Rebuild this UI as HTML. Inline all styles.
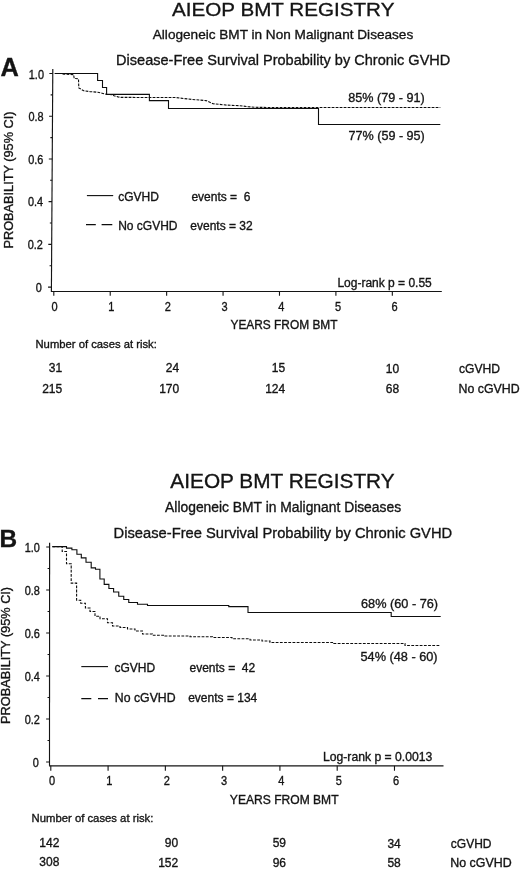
<!DOCTYPE html>
<html lang="en">
<head>
<meta charset="utf-8">
<title>AIEOP BMT Registry - Disease-Free Survival Probability by Chronic GVHD</title>
<style>
html,body{margin:0;padding:0;background:#fff;}
body{width:520px;height:869px;overflow:hidden;}
svg{display:block;font-family:"Liberation Sans",Arial,Helvetica,sans-serif;fill:#141414;filter:grayscale(1);}
text{stroke:#141414;stroke-width:0.34px;}
.ax{stroke:#141414;stroke-width:1.15;fill:none;}
.tk{stroke:#141414;stroke-width:1.1;fill:none;}
.cv{stroke:#0d0d0d;stroke-width:1.1;fill:none;stroke-linejoin:miter;}
.ds{stroke-dasharray:2.3 1.3;}
</style>
</head>
<body>
<svg width="520" height="869" viewBox="0 0 520 869">
<rect width="520" height="869" fill="#fff"/>
<text transform="translate(283.20 15.90) scale(1.0810 1)" font-size="19.10" text-anchor="middle">AIEOP BMT REGISTRY</text>
<text x="283.00" y="38.70" font-size="13.60" text-anchor="middle">Allogeneic BMT in Non Malignant Diseases</text>
<text transform="translate(283.20 64.80) scale(0.9510 1)" font-size="15.30" text-anchor="middle">Disease-Free Survival Probability by Chronic GVHD</text>
<text x="0.50" y="75.80" font-size="25.40" text-anchor="start" font-weight="bold" stroke-width="0.5">A</text>
<path d="M52.80 69.00 L51.40 291.50" class="ax"/>
<path d="M50.90 291.50 H441.80" class="ax"/>
<path d="M49.37 73.50H52.77M50.64 94.86H52.64M49.10 116.22H52.50M50.37 137.58H52.37M48.83 158.94H52.23M50.10 180.30H52.10M48.57 201.66H51.97M49.83 223.02H51.83M48.30 244.38H51.70M49.56 265.74H51.56M48.03 287.10H51.43M53.80 291.50V295.70M110.22 291.50V295.70M166.64 291.50V295.70M223.06 291.50V295.70M279.48 291.50V295.70M335.90 291.50V295.70M392.32 291.50V295.70" class="tk"/>
<text transform="translate(43.97 78.70) scale(0.9100 1)" font-size="12.00" text-anchor="end">1.0</text>
<text transform="translate(43.70 121.28) scale(0.9100 1)" font-size="12.00" text-anchor="end">0.8</text>
<text transform="translate(43.43 163.86) scale(0.9100 1)" font-size="12.00" text-anchor="end">0.6</text>
<text transform="translate(43.17 206.44) scale(0.9100 1)" font-size="12.00" text-anchor="end">0.4</text>
<text transform="translate(42.90 249.02) scale(0.9100 1)" font-size="12.00" text-anchor="end">0.2</text>
<text transform="translate(41.73 291.60) scale(0.9100 1)" font-size="12.00" text-anchor="end">0</text>
<text transform="translate(54.60 311.20) scale(0.9200 1)" font-size="12.00" text-anchor="middle">0</text>
<text transform="translate(111.27 311.20) scale(0.9200 1)" font-size="12.00" text-anchor="middle">1</text>
<text transform="translate(167.94 311.20) scale(0.9200 1)" font-size="12.00" text-anchor="middle">2</text>
<text transform="translate(224.61 311.20) scale(0.9200 1)" font-size="12.00" text-anchor="middle">3</text>
<text transform="translate(281.28 311.20) scale(0.9200 1)" font-size="12.00" text-anchor="middle">4</text>
<text transform="translate(337.95 311.20) scale(0.9200 1)" font-size="12.00" text-anchor="middle">5</text>
<text transform="translate(394.62 311.20) scale(0.9200 1)" font-size="12.00" text-anchor="middle">6</text>
<path d="M54.60 73.50 H97.60 V80.50 H102.50 V87.50 H106.60 V94.40 H149.40 V100.60 H168.50 V108.50 H318.50 V124.50 H440.30" class="cv"/>
<path d="M62.50 74.00 L64.00 74.10 L73.60 74.60 L74.20 78.50 L78.50 78.80 L78.80 87.90 L83.70 90.80 L90.00 91.60 L97.80 92.20 L102.00 93.20 L106.60 94.40 L112.50 94.70 L114.00 95.80 L118.00 96.90 L121.00 97.40 L175.40 97.50 L191.50 99.40 L206.00 100.60 L213.00 103.70 L226.50 105.10 L240.00 105.70 L248.00 106.70 L255.00 107.30 L270.00 107.50 L440.30 107.50" class="cv" stroke-width="1.2" stroke-dasharray="2.8 1.2"/>
<text transform="translate(12.9 180.0) rotate(-90) scale(1.012 1)" font-size="12.6" text-anchor="middle">PROBABILITY (95% CI)</text>
<text x="348.30" y="102.00" font-size="12.60" text-anchor="start">85% (79 - 91)</text>
<text x="348.50" y="140.00" font-size="12.60" text-anchor="start">77% (59 - 95)</text>
<path d="M86.9 195.6H113.2" class="cv"/>
<path d="M86 224.6H95.8M101.6 224.6H112.3" class="cv"/>
<text x="118.20" y="201.00" font-size="12.00" text-anchor="start">cGVHD</text>
<text x="191.40" y="201.00" font-size="12.00" text-anchor="start" style="white-space:pre">events =  6</text>
<text x="118.20" y="230.00" font-size="12.00" text-anchor="start">No cGVHD</text>
<text x="190.30" y="230.00" font-size="12.00" text-anchor="start">events = 32</text>
<text x="337.40" y="286.80" font-size="12.00" text-anchor="start">Log-rank p = 0.55</text>
<text x="284.00" y="328.80" font-size="11.90" text-anchor="middle">YEARS FROM BMT</text>
<text x="35.50" y="347.70" font-size="11.25" text-anchor="start">Number of cases at risk:</text>
<text x="62.20" y="372.00" font-size="12.00" text-anchor="end">31</text>
<text x="62.20" y="392.50" font-size="12.00" text-anchor="end">215</text>
<text x="179.20" y="372.20" font-size="12.00" text-anchor="end">24</text>
<text x="179.20" y="392.70" font-size="12.00" text-anchor="end">170</text>
<text x="285.20" y="372.40" font-size="12.00" text-anchor="end">15</text>
<text x="285.20" y="392.90" font-size="12.00" text-anchor="end">124</text>
<text x="399.20" y="372.60" font-size="12.00" text-anchor="end">10</text>
<text x="399.20" y="393.10" font-size="12.00" text-anchor="end">68</text>
<text transform="translate(459.00 372.70) scale(1.0100 1)" font-size="12.00" text-anchor="start">cGVHD</text>
<text transform="translate(458.60 393.20) scale(1.0300 1)" font-size="12.00" text-anchor="start">No cGVHD</text>
<text transform="translate(282.50 488.40) scale(1.0570 1)" font-size="19.70" text-anchor="middle">AIEOP BMT REGISTRY</text>
<text x="283.10" y="511.60" font-size="13.85" text-anchor="middle">Allogeneic BMT in Malignant Diseases</text>
<text transform="translate(282.90 538.00) scale(0.9750 1)" font-size="15.10" text-anchor="middle">Disease-Free Survival Probability by Chronic GVHD</text>
<text x="-0.50" y="547.40" font-size="24.40" text-anchor="start" font-weight="bold" stroke-width="0.5">B</text>
<path d="M49.60 542.70 L49.50 765.80" class="ax"/>
<path d="M49.00 765.80 H443.50" class="ax"/>
<path d="M46.20 547.00H49.60M47.59 568.50H49.59M46.18 590.00H49.58M47.57 611.50H49.57M46.16 633.00H49.56M47.55 654.50H49.55M46.14 676.00H49.54M47.53 697.50H49.53M46.12 719.00H49.52M47.51 740.50H49.51M46.10 762.00H49.50M50.80 765.80V770.80M108.08 765.80V770.80M165.36 765.80V770.80M222.64 765.80V770.80M279.92 765.80V770.80M337.20 765.80V770.80M394.48 765.80V770.80" class="tk"/>
<text transform="translate(39.90 552.20) scale(0.9100 1)" font-size="12.00" text-anchor="end">1.0</text>
<text transform="translate(39.88 595.20) scale(0.9100 1)" font-size="12.00" text-anchor="end">0.8</text>
<text transform="translate(39.86 638.20) scale(0.9100 1)" font-size="12.00" text-anchor="end">0.6</text>
<text transform="translate(39.84 681.20) scale(0.9100 1)" font-size="12.00" text-anchor="end">0.4</text>
<text transform="translate(39.82 724.20) scale(0.9100 1)" font-size="12.00" text-anchor="end">0.2</text>
<text transform="translate(38.90 767.20) scale(0.9100 1)" font-size="12.00" text-anchor="end">0</text>
<text transform="translate(52.00 785.00) scale(0.9200 1)" font-size="12.00" text-anchor="middle">0</text>
<text transform="translate(109.36 785.00) scale(0.9200 1)" font-size="12.00" text-anchor="middle">1</text>
<text transform="translate(166.72 785.00) scale(0.9200 1)" font-size="12.00" text-anchor="middle">2</text>
<text transform="translate(224.08 785.00) scale(0.9200 1)" font-size="12.00" text-anchor="middle">3</text>
<text transform="translate(281.44 785.00) scale(0.9200 1)" font-size="12.00" text-anchor="middle">4</text>
<text transform="translate(338.80 785.00) scale(0.9200 1)" font-size="12.00" text-anchor="middle">5</text>
<text transform="translate(396.16 785.00) scale(0.9200 1)" font-size="12.00" text-anchor="middle">6</text>
<path d="M52.40 546.60 H66.50 V548.10 H71.90 V549.80 H76.90 V554.20 H81.30 V557.90 H86.00 V562.20 H91.20 V567.90 H95.50 V569.20 H99.90 V579.00 H104.20 V584.40 H108.90 V588.50 H113.60 V592.00 H118.75 V596.25 H123.75 V599.50 H128.75 V602.50 H137.50 V604.25 H147.50 V605.50 H228.75 V606.60 H248.00 V612.50 H391.20 V616.50 H440.70" class="cv"/>
<path d="M52.40 546.60 H62.20 V551.50 H66.50 V563.80 H71.20 V583.10 H76.60 V600.20 H80.70 V603.30 H85.40 V608.00 H90.00 V611.50 H95.00 V616.20 H100.00 V618.80 H107.50 V622.80 H112.50 V626.00 H120.00 V627.50 H127.50 V629.00 H135.00 V631.00 H142.50 V634.00 H152.50 V635.20 H165.00 V636.00 H190.00 V636.80 H212.50 V637.50 H232.00 V638.80 H250.00 V640.00 H262.00 V641.00 H270.00 V642.50 H333.75 V643.50 H405.00 V645.50 H440.50" class="cv" stroke-width="1.2" stroke-dasharray="2.8 1.4"/>
<text transform="translate(10.2 655.4) rotate(-90) scale(1.012 1)" font-size="12.6" text-anchor="middle">PROBABILITY (95% CI)</text>
<text transform="translate(361.00 607.60) scale(1.0100 1)" font-size="12.60" text-anchor="start">68% (60 - 76)</text>
<text transform="translate(360.50 661.40) scale(1.0100 1)" font-size="12.60" text-anchor="start">54% (48 - 60)</text>
<path d="M81.3 666.6H108" class="cv"/>
<path d="M81.3 698.6H91.3M98 698.6H108" class="cv"/>
<text x="114.50" y="672.00" font-size="12.00" text-anchor="start">cGVHD</text>
<text x="189.50" y="672.00" font-size="12.00" text-anchor="start" style="white-space:pre">events =  42</text>
<text transform="translate(114.80 701.60) scale(1.0250 1)" font-size="12.00" text-anchor="start">No cGVHD</text>
<text x="188.20" y="701.50" font-size="12.00" text-anchor="start">events = 134</text>
<text transform="translate(323.00 760.90) scale(1.0160 1)" font-size="12.00" text-anchor="start">Log-rank p = 0.0013</text>
<text transform="translate(284.20 803.60) scale(1.0160 1)" font-size="11.90" text-anchor="middle">YEARS FROM BMT</text>
<text x="31.60" y="822.00" font-size="11.30" text-anchor="start">Number of cases at risk:</text>
<text x="59.40" y="847.00" font-size="12.00" text-anchor="end">142</text>
<text x="59.40" y="866.40" font-size="12.00" text-anchor="end">308</text>
<text x="178.20" y="847.20" font-size="12.00" text-anchor="end">90</text>
<text x="178.20" y="866.70" font-size="12.00" text-anchor="end">152</text>
<text x="286.00" y="847.40" font-size="12.00" text-anchor="end">59</text>
<text x="286.00" y="867.00" font-size="12.00" text-anchor="end">96</text>
<text x="400.80" y="847.56" font-size="12.00" text-anchor="end">34</text>
<text x="400.80" y="867.24" font-size="12.00" text-anchor="end">58</text>
<text x="450.80" y="847.60" font-size="12.00" text-anchor="start">cGVHD</text>
<text transform="translate(450.30 867.30) scale(1.0350 1)" font-size="12.00" text-anchor="start">No cGVHD</text>
</svg>
</body>
</html>
